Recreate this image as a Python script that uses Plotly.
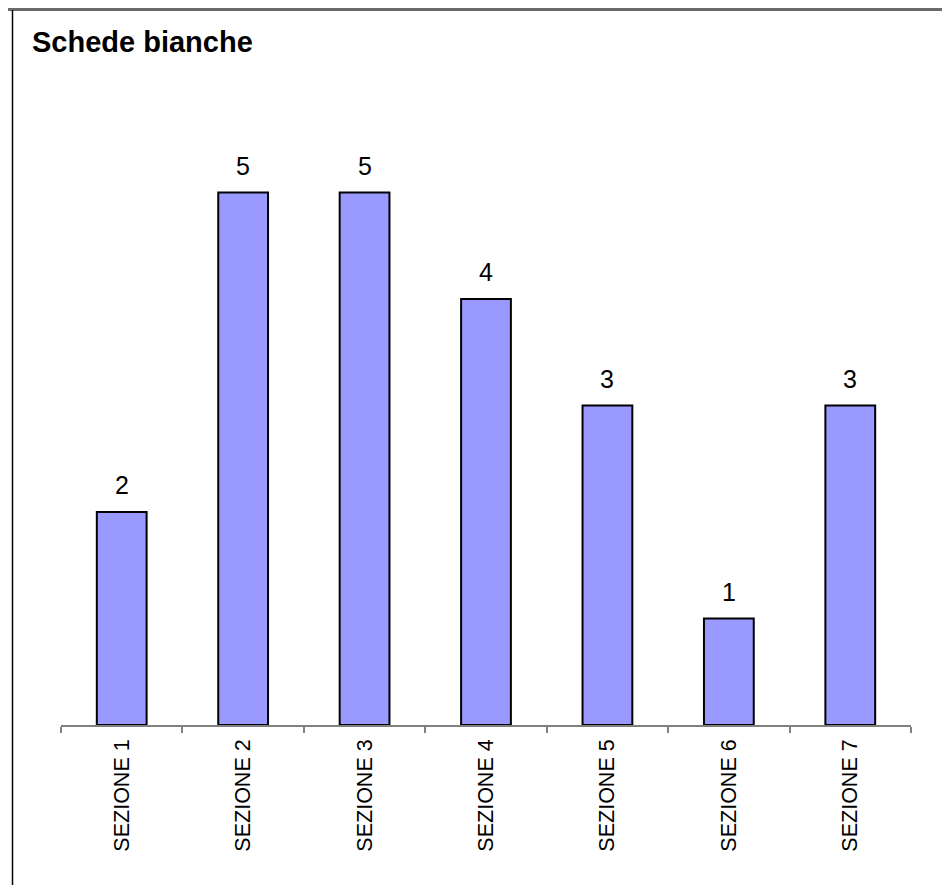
import plotly.graph_objects as go

categories = ["SEZIONE 1", "SEZIONE 2", "SEZIONE 3", "SEZIONE 4", "SEZIONE 5", "SEZIONE 6", "SEZIONE 7"]
values = [2, 5, 5, 4, 3, 1, 3]
title_text = "Schede bianche"

W, H = 950, 885
OFF = 8  # page body offset
ML, MR, MT = 61 - OFF, 39 + OFF, 86 - OFF
MB = H - (725 - OFF)
PW, PH = W - ML - MR, H - MT - MB


def px_x(x):
    return (x - OFF - ML) / PW


def px_y(y):
    return (H - MB - (y - OFF)) / PH


FONT = "Liberation Sans, Arial, sans-serif"

fig = go.Figure()
fig.add_trace(go.Bar(
    x=categories, y=values,
    width=0.41,
    marker=dict(color="#9999FF", line=dict(color="#000000", width=2)),
    hoverinfo="x+y",
))

for c, v in zip(categories, values):
    fig.add_annotation(x=c, y=v, text=str(v), showarrow=False,
                       yanchor="bottom", yshift=11,
                       font=dict(family=FONT, size=25, color="#000000"))

fig.update_layout(
    width=W, height=H,
    margin=dict(l=ML, r=MR, t=MT, b=MB, pad=0),
    paper_bgcolor="white", plot_bgcolor="white",
    showlegend=False,
    title=dict(text="<b>" + title_text + "</b>", x=(32 - OFF) / W, xanchor="left",
               y=1 - (42 - OFF) / H, yanchor="middle",
               font=dict(family=FONT, size=29, color="#000000")),
    xaxis=dict(showline=True, linecolor="#808080", linewidth=1.5,
               ticks="outside", tickson="boundaries", ticklen=6,
               tickcolor="#808080", tickwidth=1.5,
               tickangle=-90, ticklabelstandoff=4,
               tickfont=dict(family=FONT, size=21.5, color="#000000"),
               showgrid=False, zeroline=False, fixedrange=True),
    yaxis=dict(range=[0, 6], visible=False, showgrid=False, zeroline=False,
               fixedrange=True),
    shapes=[
        dict(type="line", xref="paper", yref="paper",
             x0=px_x(0), x1=px_x(W + 20), y0=px_y(9.5), y1=px_y(9.5),
             line=dict(color="#6a6a6a", width=3)),
        dict(type="line", xref="paper", yref="paper",
             x0=px_x(12.5), x1=px_x(12.5), y0=px_y(10), y1=px_y(H + 20),
             line=dict(color="#000000", width=1.5)),
    ],
)

fig.write_html("out.html")
